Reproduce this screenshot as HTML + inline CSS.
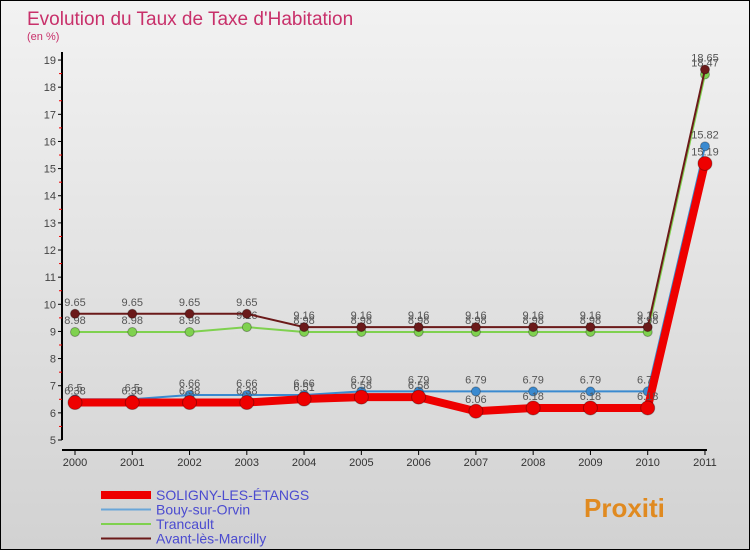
<!DOCTYPE html>
<html><head><meta charset="utf-8"><style>
body{margin:0;width:750px;height:550px;overflow:hidden;font-family:"Liberation Sans",sans-serif}
#wrap{position:relative;width:748px;height:548px;border:1px solid #000;background:linear-gradient(#f2f2f2,#d2d2d2)}
</style></head><body>
<div id="wrap">
<svg id="chart" width="748" height="548"></svg>
</div>
<script>
const years=["2000","2001","2002","2003","2004","2005","2006","2007","2008","2009","2010","2011"];
const soligny=[6.38,6.38,6.38,6.38,6.51,6.58,6.58,6.06,6.18,6.18,6.18,15.19];
const bouy=[6.5,6.5,6.66,6.66,6.66,6.79,6.79,6.79,6.79,6.79,6.79,15.82];
const trancault=[8.98,8.98,8.98,9.16,8.98,8.98,8.98,8.98,8.98,8.98,8.98,18.47];
const avant=[9.65,9.65,9.65,9.65,9.16,9.16,9.16,9.16,9.16,9.16,9.16,18.65];
const yTicks=[5,6,7,8,9,10,11,12,13,14,15,16,17,18,19];
const NS="http://www.w3.org/2000/svg";
const svg=document.getElementById('chart');
const X=i=>74+i*57.27;
const Y=v=>439-(v-5)*27.14;
function mk(t,a,p){const e=document.createElementNS(NS,t);for(const k in a)e.setAttribute(k,a[k]);(p||svg).appendChild(e);return e;}
let t=mk('text',{x:26,y:24,'font-size':19,fill:'#c8306a'});t.textContent="Evolution du Taux de Taxe d'Habitation";


t=mk('text',{x:26,y:39,'font-size':11,fill:'#c8306a'});t.textContent="(en %)";


let ax=mk('line',{x1:61,y1:Y(19)-8,x2:61,y2:Y(5),stroke:'#000','stroke-width':2});


ax=mk('line',{x1:61,y1:Y(5)+10,x2:X(11)+2,y2:Y(5)+10,stroke:'#000','stroke-width':2});


yTicks.forEach(v=>{
 mk('line',{x1:57,y1:Y(v),x2:61,y2:Y(v),stroke:'#000'});
 if(v<19)mk('line',{x1:58,y1:Y(v+0.5),x2:61,y2:Y(v+0.5),stroke:'#e00'});
 const l=mk('text',{x:55,y:Y(v)+4,'font-size':11,fill:'#444','text-anchor':'end'});l.textContent=v;
 
 
});
years.forEach((y,i)=>{
 mk('line',{x1:X(i),y1:Y(5)+10,x2:X(i),y2:Y(5)+15,stroke:'#000'});
 const l=mk('text',{x:X(i),y:Y(5)+26,'font-size':11,fill:'#333','text-anchor':'middle'});l.textContent=y;
 
 
});
function series(d,col,w,r,name){
 const g=mk('g',{});
 
 
 mk('polyline',{points:d.map((v,i)=>X(i)+','+Y(v)).join(' '),fill:'none',stroke:col,'stroke-width':w},g);
 d.forEach((v,i)=>{
  const c=mk('circle',{cx:X(i),cy:Y(v),r:r,fill:col,stroke:'rgba(0,0,0,0.3)'},g);
  
  
  const l=mk('text',{x:X(i),y:Y(v)-8,'font-size':11,fill:'#555','text-anchor':'middle'},g);l.textContent=v;
 });
}
series(trancault,'#7fd14f',2,4.5,'series-trancault');
series(avant,'#6b1a1a',2,4.5,'series-avant-les-marcilly');
series(bouy,'#3a8ad0',2,4.5,'series-bouy-sur-orvin');
series(soligny,'#ee0000',8,7,'series-soligny');
const leg=[["SOLIGNY-LES-ÉTANGS","#ee0000",8],["Bouy-sur-Orvin","#6aa6d8",2],["Trancault","#7fd14f",2],["Avant-lès-Marcilly","#6b1a1a",2]];
leg.forEach((l,i)=>{
 const g=mk('g',{});
 
 
 const y=494+i*14.5;
 mk('line',{x1:100,y1:y,x2:150,y2:y,stroke:l[1],'stroke-width':l[2]},g);
 const tx=mk('text',{x:155,y:y+5,'font-size':14,fill:'#4b4bd0'},g);tx.textContent=l[0];
});
t=mk('text',{x:583,y:516,'font-size':26,'font-weight':'bold',fill:'#e08a20'});t.textContent="Proxiti";


</script>
</body></html>
